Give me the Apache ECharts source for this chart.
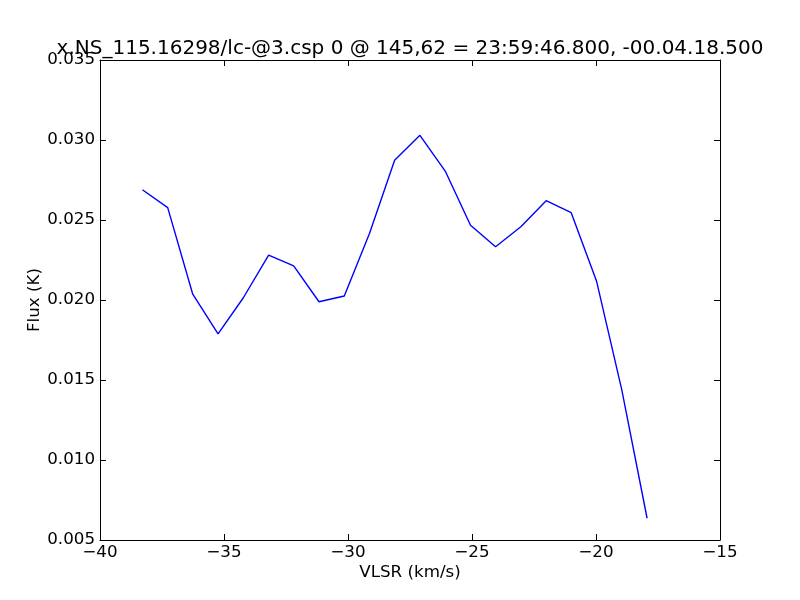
<!DOCTYPE html>
<html>
<head>
<meta charset="utf-8">
<script src="https://cdn.jsdelivr.net/npm/echarts@6/dist/echarts.min.js"></script>
<style>html,body{margin:0;padding:0;background:#fff}#c{width:800px;height:600px}</style>
</head>
<body>
<div id="c"></div>
<script>
const titleText = 'x.NS_115.16298/lc-@3.csp 0 @ 145,62 = 23:59:46.800, -00.04.18.500';
const xLabel = 'VLSR (km/s)';
const yLabel = 'Flux (K)';
const velocity = [-38.29, -37.27, -36.26, -35.24, -34.22, -33.20, -32.19, -31.17, -30.15, -29.13, -28.12,
                  -27.10, -26.08, -25.06, -24.05, -23.03, -22.01, -21.00, -19.98, -18.96, -17.94];
const flux = [0.02689, 0.02577, 0.02036, 0.01788, 0.02014, 0.02281, 0.02213, 0.01989, 0.02025, 0.02417, 0.02873,
              0.03029, 0.02806, 0.02467, 0.02333, 0.02458, 0.02621, 0.02546, 0.02119, 0.01438, 0.00636];
const xTicks = [-40, -35, -30, -25, -20, -15];
const yTicks = [0.005, 0.010, 0.015, 0.020, 0.025, 0.030, 0.035];

const FONT = 'DejaVu Sans';
const fmtX = v => (v < 0 ? '\u2212' + Math.abs(v) : String(v));
const fmtY = v => v.toFixed(3);
const tick = { show: true, inside: true, length: 6, lineStyle: { color: '#000', width: 1 } };
const axLine = { show: true, lineStyle: { color: '#000', width: 1 } };

const chart = echarts.init(document.getElementById('c'), null, { renderer: 'canvas' });
chart.setOption({
  backgroundColor: '#fff',
  animation: false,
  title: {
    text: titleText, left: 405, top: 34, textAlign: 'center',
    textStyle: { fontFamily: FONT, fontSize: 20, fontWeight: 'normal', color: '#000' }
  },
  grid: { left: 100, right: 80, top: 60, bottom: 60, containLabel: false },
  xAxis: [{
    type: 'value', min: xTicks[0], max: xTicks[xTicks.length - 1], interval: 5,
    position: 'bottom',
    name: xLabel, nameLocation: 'middle', nameGap: 24, nameMoveOverlap: false,
    nameTextStyle: { fontFamily: FONT, fontSize: 16.7, color: '#000' },
    axisLine: axLine, axisTick: tick, splitLine: { show: false },
    axisLabel: { formatter: fmtX, fontFamily: FONT, fontSize: 16.7, color: '#000', margin: 4 }
  }, {
    type: 'value', min: xTicks[0], max: xTicks[xTicks.length - 1], interval: 5,
    position: 'top',
    axisLine: axLine, axisTick: tick, splitLine: { show: false }, axisLabel: { show: false }
  }],
  yAxis: [{
    type: 'value', min: yTicks[0], max: yTicks[yTicks.length - 1], interval: 0.005,
    position: 'left',
    name: yLabel, nameLocation: 'middle', nameGap: 57, nameRotate: 90, nameMoveOverlap: false,
    nameTextStyle: { fontFamily: FONT, fontSize: 16.7, color: '#000' },
    axisLine: axLine, axisTick: tick, splitLine: { show: false },
    axisLabel: { formatter: fmtY, fontFamily: FONT, fontSize: 16.7, color: '#000', margin: 5 }
  }, {
    type: 'value', min: yTicks[0], max: yTicks[yTicks.length - 1], interval: 0.005,
    position: 'right',
    axisLine: axLine, axisTick: tick, splitLine: { show: false }, axisLabel: { show: false }
  }],
  series: [{
    type: 'line',
    data: velocity.map((v, i) => [v, flux[i]]),
    showSymbol: false, symbol: 'none',
    lineStyle: { color: '#0000ff', width: 1.4 },
    clip: true
  }]
});
</script>
</body>
</html>
